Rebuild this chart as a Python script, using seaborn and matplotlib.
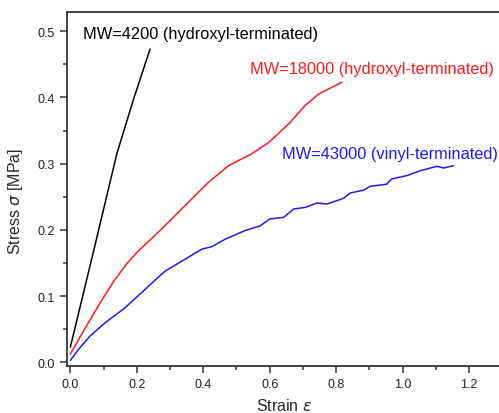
import numpy as np
import pandas as pd
import matplotlib
matplotlib.use("Agg")
import matplotlib.pyplot as plt
import seaborn as sns
from matplotlib.ticker import MultipleLocator

# Strain / stress readings for each molecular weight
strain_4200 = [0.0, 0.07, 0.14, 0.19, 0.24]
stress_4200 = [0.023, 0.168, 0.315, 0.397, 0.473]

strain_18000 = [0.0, 0.045, 0.09, 0.13, 0.17, 0.20, 0.27, 0.326, 0.416, 0.476, 0.546,
                0.597, 0.657, 0.707, 0.747, 0.817]
stress_18000 = [0.0125, 0.052, 0.090, 0.122, 0.149, 0.166, 0.199, 0.227, 0.272, 0.297, 0.315,
                0.332, 0.360, 0.388, 0.405, 0.423]

strain_43000 = [0.0, 0.025, 0.06, 0.105, 0.16, 0.216, 0.27, 0.286, 0.336, 0.396, 0.426,
                0.466, 0.526, 0.571, 0.60, 0.642, 0.672, 0.707, 0.742, 0.772, 0.822,
                0.842, 0.882, 0.902, 0.952, 0.967, 1.013, 1.053, 1.103, 1.123, 1.153]
stress_43000 = [0.003, 0.020, 0.040, 0.060, 0.0805, 0.106, 0.131, 0.138, 0.153, 0.171, 0.1747,
                0.186, 0.199, 0.206, 0.2165, 0.219, 0.2316, 0.234, 0.2406, 0.239, 0.2477,
                0.2557, 0.260, 0.2658, 0.269, 0.2769, 0.282, 0.2894, 0.296, 0.2935, 0.297]

labels = ["MW=4200 (hydroxyl-terminated)",
          "MW=18000 (hydroxyl-terminated)",
          "MW=43000 (vinyl-terminated)"]
colors = ["#000000", "#ff1a1a", "#1a1aff"]
label_pos = [(0.039, 0.497), (0.541, 0.443), (0.636, 0.315)]

sns.set_theme(style="ticks")
plt.rcParams['font.family'] = ['Liberation Sans', 'DejaVu Sans']

fig = plt.figure(figsize=(4.99, 4.14), dpi=100)
ax = fig.add_axes([67 / 499, 47.3 / 414, 434 / 499, 353.7 / 414])

series = [(strain_4200, stress_4200), (strain_18000, stress_18000), (strain_43000, stress_43000)]
for (x, y), c in zip(series, colors):
    df = pd.DataFrame({"strain": x, "stress": y})
    sns.lineplot(data=df, x="strain", y="stress", color=c, linewidth=1.1,
                 estimator=None, sort=False, ax=ax)

for txt, c, (tx, ty) in zip(labels, colors, label_pos):
    ax.text(tx, ty, txt, color=c, fontsize=11.8, ha="left", va="center")

ax.set_xlim(-0.01, 1.296)
ax.set_ylim(-0.005, 0.529)
ax.xaxis.set_major_locator(MultipleLocator(0.2))
ax.xaxis.set_minor_locator(MultipleLocator(0.1))
ax.yaxis.set_major_locator(MultipleLocator(0.1))
ax.yaxis.set_minor_locator(MultipleLocator(0.05))

ax.tick_params(which="major", direction="out", length=5, width=1.1, labelsize=9, colors="#333333")
ax.tick_params(which="minor", direction="out", length=3, width=1.1, colors="#333333")
ax.tick_params(labelcolor="#222222")

for s in ax.spines.values():
    s.set_linewidth(1.3)
    s.set_color("#333333")
    s.set_visible(True)

ax.set_xlabel("Strain $\\varepsilon$", fontsize=11.5)
ax.set_ylabel("Stress $\\sigma$ [MPa]", fontsize=11.5)
ax.xaxis.set_label_coords(0.50, -0.088)
ax.yaxis.set_label_coords(-0.097, 0.468)

fig.savefig("out.png", dpi=100)
